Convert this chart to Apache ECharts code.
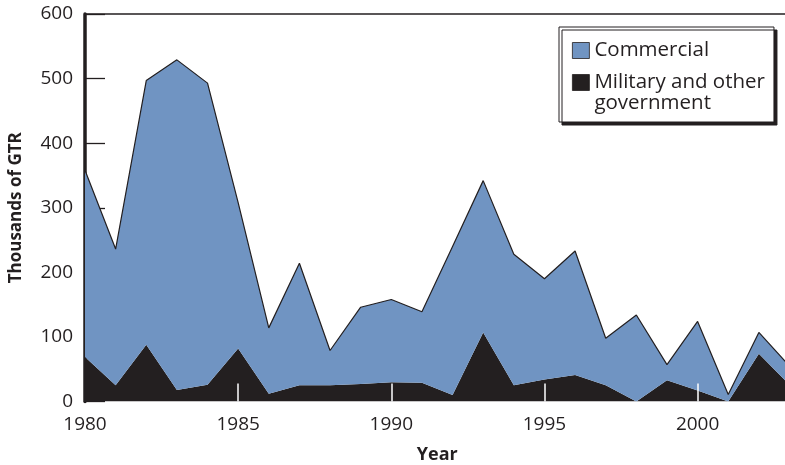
<!DOCTYPE html>
<html>
<head>
<meta charset="utf-8">
<script src="https://cdn.jsdelivr.net/npm/echarts@6/dist/echarts.min.js"></script>
<style>
  html, body { margin: 0; padding: 0; background: #ffffff; }
  #chart { width: 785px; height: 465px; }
</style>
</head>
<body>
<div id="chart"></div>
<script>
// values (thousands of GTR)
var years = ['1980', '1981', '1982', '1983', '1984', '1985', '1986', '1987', '1988', '1989', '1990', '1991',
             '1992', '1993', '1994', '1995', '1996', '1997', '1998', '1999', '2000', '2001', '2002', '2003'];
var military = [69, 25, 88, 18, 26, 82, 12, 25, 25, 27, 30, 29,
                10, 107, 25, 34, 41, 25, 0, 33, 17, 0, 74, 26];
var commercial = [289, 211, 409, 511, 467, 226, 102, 189, 54, 119, 128, 110,
                  230, 235, 203, 156, 192, 73, 134, 24, 107, 11, 33, 29];
var yearLabels = ['1980', '1985', '1990', '1995', '2000'];
var yearTicks = ['1985', '1990', '1995', '2000'];

var font = '"Open Sans", "Noto Sans", sans-serif';
var ink = '#231f20';
var blue = '#7094c2';
var milName = 'Military and other\ngovernment';

var chart = echarts.init(document.getElementById('chart'));

var option = {
  animation: false,
  grid: { left: 85, top: 14, right: -4.5, bottom: 63.5, outerBoundsMode: 'none' },
  legend: {
    orient: 'vertical',
    left: 559,
    top: 27,
    padding: [13, 9, 8, 13],
    itemGap: -10,
    itemWidth: 17,
    itemHeight: 16,
    backgroundColor: '#ffffff',
    borderColor: ink,
    borderWidth: 1,
    shadowColor: ink,
    shadowBlur: 0,
    shadowOffsetX: 3,
    shadowOffsetY: 3,
    icon: 'rect',
    // empty first line so the swatch sits beside the first text line
    formatter: function (name) { return name === milName ? '\n' + name : name; },
    textStyle: { fontFamily: font, fontSize: 20.5, color: ink, lineHeight: 21 },
    data: [
      { name: 'Commercial', itemStyle: { borderColor: ink, borderWidth: 0.8 } },
      { name: milName, itemStyle: { borderColor: ink, borderWidth: 0.8 } }
    ]
  },
  xAxis: [
    {
      type: 'category',
      data: years,
      boundaryGap: false,
      z: 10,
      name: 'Year',
      nameLocation: 'middle',
      nameGap: 44,
      nameTextStyle: { fontFamily: font, fontSize: 18, fontWeight: 'bold', color: ink },
      axisLine: { show: false },
      axisTick: {
        show: true, inside: true, length: 18,
        interval: function (i, v) { return yearTicks.indexOf(v) >= 0; },
        lineStyle: { color: '#ffffff', width: 1.5 }
      },
      axisLabel: {
        margin: 14,
        interval: function (i, v) { return yearLabels.indexOf(v) >= 0; },
        fontFamily: font, fontSize: 19, color: ink
      },
      splitLine: { show: false }
    },
    {
      type: 'category',
      data: years,
      boundaryGap: false,
      position: 'top',
      axisLine: { show: true, onZero: false, lineStyle: { color: ink, width: 1.5 } },
      axisTick: { show: false },
      axisLabel: { show: false },
      splitLine: { show: false }
    }
  ],
  yAxis: {
    type: 'value',
    min: 0,
    max: 600,
    interval: 100,
    name: 'Thousands of GTR',
    nameLocation: 'middle',
    nameGap: 60,
    nameTextStyle: { fontFamily: font, fontSize: 17, fontWeight: 'bold', color: ink },
    axisLine: { show: true, lineStyle: { color: ink, width: 3.5 } },
    axisTick: { show: true, inside: true, length: 20, lineStyle: { color: ink, width: 1.3 } },
    axisLabel: { margin: 12, fontFamily: font, fontSize: 19, color: ink },
    splitLine: { show: false }
  },
  series: [
    {
      name: milName,
      type: 'line',
      stack: 'gtr',
      data: military,
      symbol: 'none',
      lineStyle: { width: 0, color: ink },
      itemStyle: { color: ink },
      areaStyle: { color: ink, opacity: 1 }
    },
    {
      name: 'Commercial',
      type: 'line',
      stack: 'gtr',
      data: commercial,
      symbol: 'none',
      lineStyle: { width: 1.2, color: ink },
      itemStyle: { color: blue },
      areaStyle: { color: blue, opacity: 1 }
    }
  ]
};

chart.setOption(option);
</script>
</body>
</html>
